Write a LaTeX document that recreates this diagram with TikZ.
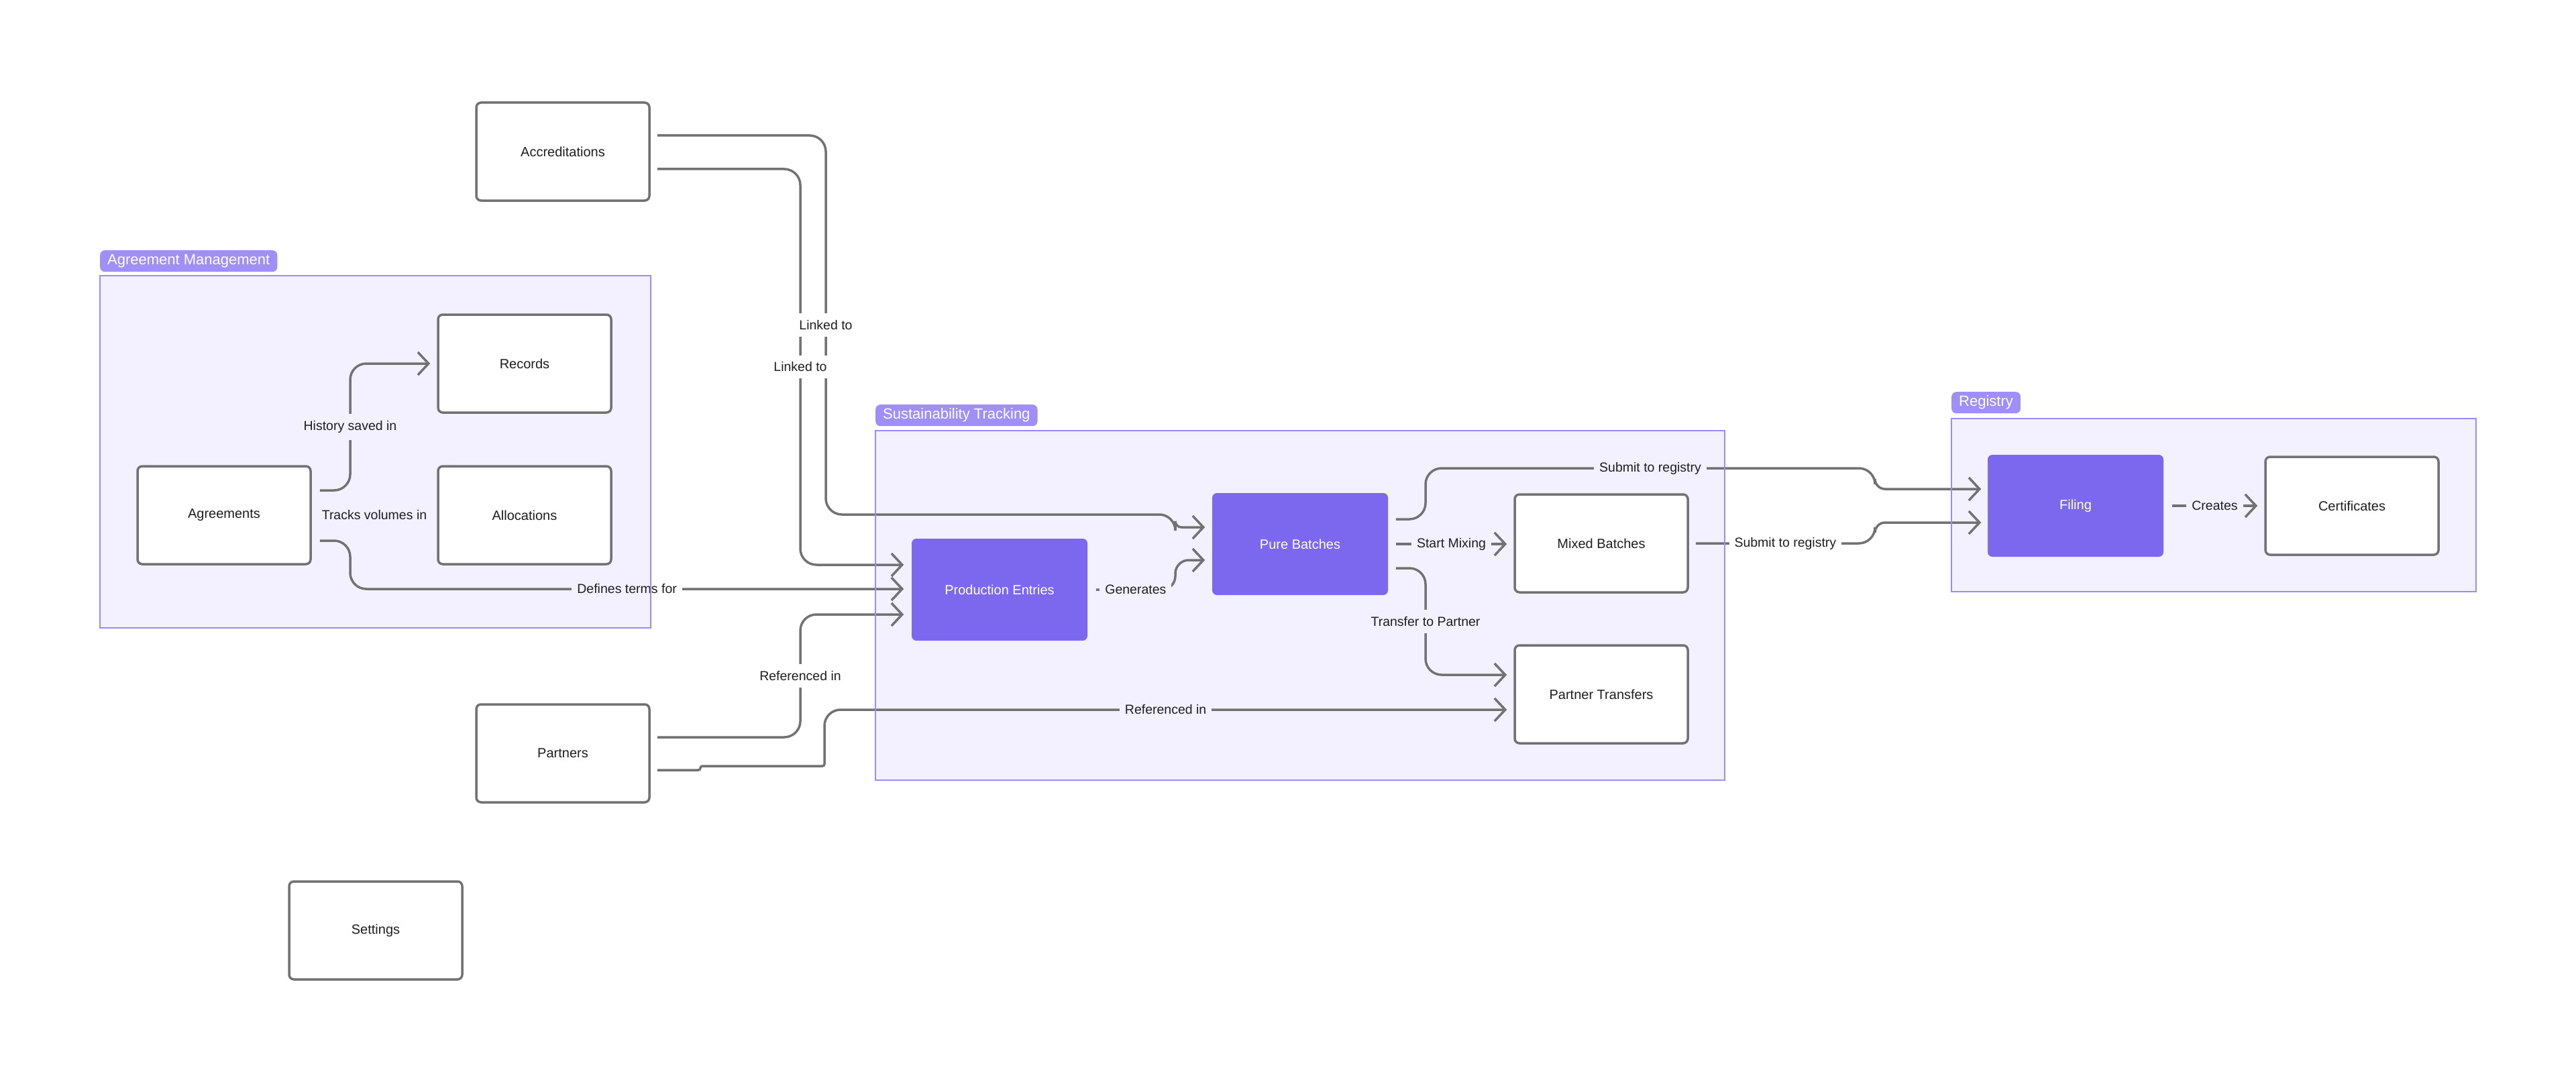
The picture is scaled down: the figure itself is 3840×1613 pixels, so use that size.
\documentclass[tikz,border=0pt]{standalone}
\usepackage{fontspec}
\setmainfont{Liberation Sans}
\usetikzlibrary{arrows.meta,calc}
\definecolor{gfill}{HTML}{F3F1FF}
\definecolor{gborder}{HTML}{9B8AFB}
\definecolor{glab}{HTML}{A08EF9}
\definecolor{pfill}{HTML}{7B68EE}
\definecolor{lgray}{HTML}{727272}
\definecolor{txt}{HTML}{1E1E1E}
\tikzset{
  box/.style={rectangle, rounded corners=7pt, draw=lgray, line width=3.5pt, fill=white,
    minimum width=258pt, minimum height=146pt, inner sep=0pt,
    font=\fontsize{20pt}{24pt}\selectfont, text=txt},
  pbox/.style={box, draw=none, fill=pfill, text=white, minimum width=262pt, minimum height=152pt},
  conn/.style={draw=lgray, line width=3.5pt, rounded corners=24pt},
  arr/.style={-{Straight Barb[length=16pt,width=34pt]}},
  lbl/.style={fill=white, text=txt, inner xsep=8pt, inner ysep=10pt, rounded corners=0pt,
    font=\fontsize{19.5pt}{23pt}\selectfont},
  lblg/.style={lbl, fill=gfill},
  grpfill/.style={fill=gfill},
  grpline/.style={draw=gborder, line width=1.6pt},
  glabel/.style={fill=glab, text=white, rounded corners=7pt, anchor=north west,
    minimum height=32pt, inner xsep=11pt, inner ysep=0pt,
    font=\fontsize{22pt}{26pt}\selectfont}
}
\begin{document}
\begin{tikzpicture}[x=1pt,y=-1pt]
\useasboundingbox (0,0) rectangle (3840,1613);
\fill[white] (0,0) rectangle (3840,1613);
% group backgrounds
\fill[grpfill] (149,411) rectangle (970,936);
\fill[grpfill] (1305,642) rectangle (2571,1163);
\fill[grpfill] (2909,624) rectangle (3691,882);
% nodes
\node[box] (acc) at (839,226) {Accreditations};
\node[box] (rec) at (782,542) {Records};
\node[box] (agr) at (334,768) {Agreements};
\node[box] (alloc) at (782,768) {Allocations};
\node[box] (part) at (839,1123) {Partners};
\node[box] (sett) at (560,1387) {Settings};
\node[pbox] (pe) at (1490,879) {Production Entries};
\node[pbox] (pb) at (1938,811) {Pure Batches};
\node[box] (mb) at (2387,810) {Mixed Batches};
\node[box] (pt) at (2387,1035) {Partner Transfers};
\node[pbox] (fil) at (3094,754) {Filing};
\node[box] (cert) at (3506,754) {Certificates};
% connectors
\draw[conn,arr] ([shift={(12,-37)}]agr.east) -- (522,731) -- node[lblg]{History saved in} (522,542) -- ([xshift=-10]rec.west);
\draw[conn,shorten <=12pt,shorten >=12pt] ([xshift=12]agr.east) -- node[lblg]{Tracks volumes in} ([xshift=-12]alloc.west);
\draw[conn,arr] ([shift={(12,38)}]agr.east) -- (522,806) -- (522,878) -- node[lblg, path picture={\fill[white] ($(path picture bounding box.center)+(35.5,-60)$) rectangle ($(path picture bounding box.center)+(200,60)$);}]{Defines terms for} ([shift={(-10,-1)}]pe.west);
\draw[conn,arr] ([shift={(10,-24)}]acc.east) -- (1231,202) -- (1231,767) -- (1752,767) [rounded corners=9pt] -- (1752,786) -- ([shift={(-9,-25)}]pb.west);
\draw[conn,arr] ([shift={(10,26)}]acc.east) -- (1193,252) -- (1193,842) -- ([shift={(-10,-37)}]pe.west);
\path (1231,202) -- node[lbl]{Linked to} (1231,767);
\path (1193,252) -- node[lbl]{Linked to} (1193,842);
\draw[conn,arr] ([shift={(10,-24)}]part.east) -- (1193,1099) -- node[lbl]{Referenced in} (1193,916) -- ([shift={(-10,37)}]pe.west);
\draw[conn,arr] ([shift={(10,25)}]part.east) [rounded corners=3pt] -- (1044,1148) -- (1044,1142) -- (1229,1142) [rounded corners=24pt] -- (1229,1058) -- node[lblg]{Referenced in} ([shift={(-10,23)}]pt.west);
\draw[conn,arr,rounded corners=20pt] ([xshift=11]pe.east) -- node[lblg]{Generates} (1752,879) -- (1752,835) -- ([shift={(-9,24)}]pb.west);
\draw[conn,arr] ([xshift=10]pb.east) -- node[lblg]{Start Mixing} ([xshift=-10]mb.west |- pb.east);
\draw[conn,arr] ([shift={(10,-37)}]pb.east) -- (2125,774) -- (2125,698) -- node[lblg]{Submit to registry} (2795,698) [rounded corners=15pt] -- (2795,729) -- ([shift={(-8,-25)}]fil.west);
\draw[conn,arr] ([shift={(10,36)}]pb.east) -- (2125,847) -- node[lblg]{Transfer to Partner} (2125,1006) -- ([shift={(-10,-29)}]pt.west);
\draw[conn,arr] ([xshift=10]mb.east) -- node[lbl]{Submit to registry} (2795,810) [rounded corners=15pt] -- (2795,779) -- ([shift={(-8,25)}]fil.west);
\draw[conn,arr] ([xshift=11]fil.east) -- node[lblg]{Creates} ([xshift=-10]cert.west);
% group borders and labels
\draw[grpline] (149,411) rectangle (970,936);
\draw[grpline] (1305,642) rectangle (2571,1163);
\draw[grpline] (2909,624) rectangle (3691,882);
\node[glabel] (gam) at (149,373) {Agreement Management};
\node[glabel] (gst) at (1305,603) {Sustainability Tracking};
\node[glabel] (grg) at (2909,584) {Registry};
\end{tikzpicture}
\end{document}
